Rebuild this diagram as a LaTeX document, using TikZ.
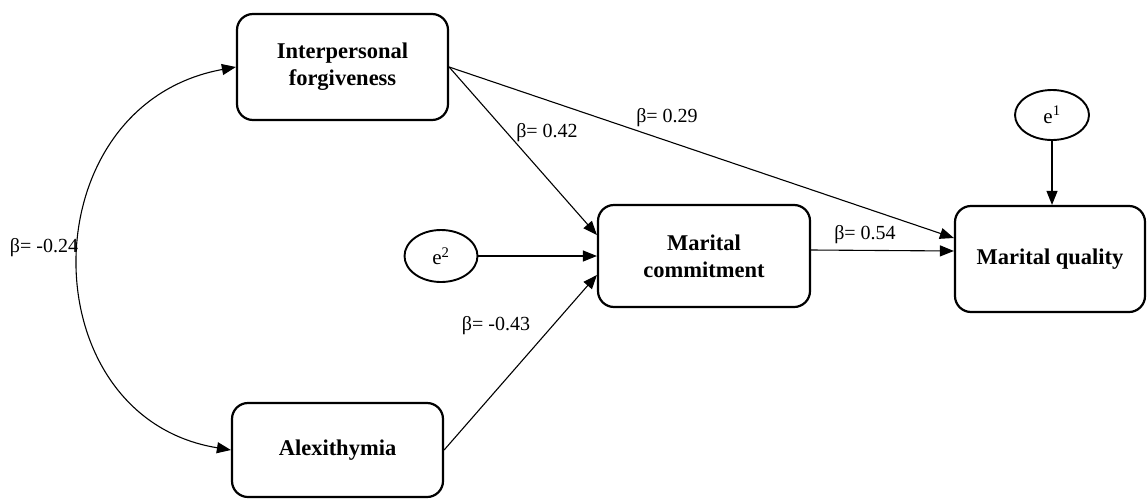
\documentclass[tikz,border=0pt]{standalone}
\usepackage{fontspec}
\setmainfont{Liberation Serif}
\usetikzlibrary{arrows.meta,calc,shapes.geometric}
\begin{document}
\begin{tikzpicture}[x=1pt,y=-1pt,
  box/.style={draw, line width=2.2pt, rounded corners=16pt, align=center,
    font=\fontsize{22.5}{27}\selectfont\bfseries, inner sep=0pt},
  err/.style={draw, ellipse, line width=1.9pt, inner sep=0pt,
    font=\fontsize{21}{24}\selectfont},
  arr/.style={-{Triangle[length=14pt,width=11pt]}, line width=1.1pt},
  arrboth/.style={{Triangle[length=14pt,width=11pt]}-{Triangle[length=14pt,width=11pt]}, line width=1.1pt},
  lab/.style={font=\fontsize{20}{24}\selectfont, inner sep=0pt}
]
\useasboundingbox (0,0) rectangle (1147,498);

\node[box, minimum width=211pt, minimum height=106pt] (IF) at (342.5,67) {Interpersonal\\forgiveness};
\node[box, minimum width=212pt, minimum height=102pt] (MC) at (704,256) {Marital\\commitment};
\node[box, minimum width=190pt, minimum height=106pt] (MQ) at (1050,259) {Marital quality};
\node[box, minimum width=211pt, minimum height=94pt] (AL) at (337.5,450) {Alexithymia};
\node[err, minimum width=73pt, minimum height=52pt] (E2) at (441,256) {e\textsuperscript{2}};
\node[err, minimum width=74pt, minimum height=50pt] (E1) at (1052,115) {e\textsuperscript{1}};

\draw[arr] (IF.east) -- ([yshift=21pt]MC.west);
\draw[arr] (IF.east) -- ([yshift=21pt]MQ.west);
\draw[arr] (E2.east) -- (MC.west);
\draw[arr] (AL.east) -- ([yshift=-19pt]MC.west);
\draw[arr] ([yshift=6pt]MC.east) -- ([yshift=8pt]MQ.west);
\draw[arr] (E1.south) -- (E1.south |- MQ.north);
\draw[arrboth] (IF.west) .. controls (28,105) and (28,417) .. (AL.west);

\node[lab] (l1) at (547,133) {β= 0.42};
\node[lab] (l2) at (667,118) {β= 0.29};
\node[lab] (l3) at (865,235) {β= 0.54};
\node[lab] (l4) at (496,326) {β= -0.43};
\node[lab] (l5) at (44,248) {β= -0.24};
\end{tikzpicture}
\end{document}
